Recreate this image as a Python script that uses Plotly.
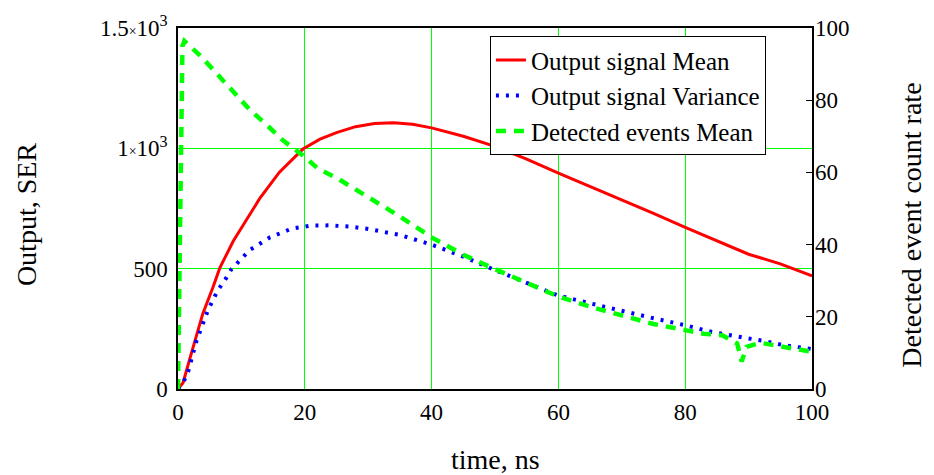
import plotly.graph_objects as go

# ---------------- data ----------------
t_mean = [0, 0.8, 1.8, 3.9, 5.5, 6.6, 8.7, 12.9, 16.0, 19.7, 22.4, 25, 28, 31, 34, 37, 40,
          45, 50, 55, 60, 65, 70, 75, 80, 85, 90, 95, 100]
out_mean = [0, 26, 120, 312, 422, 503, 614, 792, 901, 997, 1038, 1065, 1090, 1103, 1106, 1100, 1085,
            1050, 1008, 955, 897, 842, 788, 730, 672, 615, 560, 520, 470]

t_var = [0, 0.9, 1.6, 2.9, 4.7, 6.3, 7.4, 8.4, 11.3, 14.5, 17.9, 21.0, 24, 27, 30, 35, 40,
         45, 50, 55, 60, 65, 70, 75, 80, 84.2, 89.1, 92.4, 95.5, 98.9, 100]
out_var = [0, 31, 72, 199, 326, 411, 452, 497, 577, 630, 666, 679, 680, 675, 665, 640, 600,
           550, 494, 440, 388, 356, 324, 294, 265, 237, 214, 200, 182, 170, 166]

t_ev = [0, 0.3, 0.7, 1.0, 3.4, 6.05, 8.7, 11.3, 13.9, 16.6, 19.7, 22.1, 25, 30, 35, 40,
        45, 50, 55, 60, 65, 70, 75, 80, 82.9, 85.8, 88.2, 88.9, 89.7, 91.8, 94.7, 97.6, 100]
ev_mean = [0, 45, 95, 96.4, 92.5, 87.5, 82.5, 77.4, 73.3, 68.8, 64.7, 61.0, 58.5, 53.3, 47.8, 42.0,
           37.2, 33.2, 29.4, 25.6, 22.8, 20.3, 18.0, 16.3, 15.3, 14.9, 12.6, 7.6, 11.7, 12.8, 11.9, 10.8, 10.3]

x_ticks = [0, 20, 40, 60, 80, 100]
y_ticks = [0, 500, 1000, 1500]
y_ticktext = ["0", "500",
              "1<span style='font-size:14px'>×</span>10<sup>3</sup>",
              "1.5<span style='font-size:14px'>×</span>10<sup>3</sup>"]
y2_ticks = [0, 20, 40, 60, 80, 100]

FONT = "Liberation Serif, Times New Roman, serif"
GRID = "#00ff00"

fig = go.Figure()
fig.add_trace(go.Scatter(x=t_mean, y=out_mean, mode="lines", name="Output signal Mean",
                         line=dict(color="#ff0000", width=3), yaxis="y"))
fig.add_trace(go.Scatter(x=t_var, y=out_var, mode="lines", name="Output signal Variance",
                         line=dict(color="#0000ff", width=4, dash="3px,7px"), yaxis="y"))
fig.add_trace(go.Scatter(x=t_ev, y=ev_mean, mode="lines", name="Detected events Mean",
                         line=dict(color="#00ff00", width=4.5, dash="10px,8px"), yaxis="y2"))

fig.update_layout(
    width=934, height=475,
    margin=dict(l=178, r=122, t=24, b=86),
    paper_bgcolor="white", plot_bgcolor="white",
    font=dict(family=FONT, size=23, color="black"),
    showlegend=True,
    legend=dict(x=0.492, y=0.977, xanchor="left", yanchor="top",
                bgcolor="white", bordercolor="black", borderwidth=1,
                font=dict(family=FONT, size=25, color="black"),
                itemwidth=30, tracegroupgap=0),
    xaxis=dict(range=[0, 100], tickvals=x_ticks, showgrid=True, gridcolor=GRID, gridwidth=1.2,
               zeroline=False, showline=True, linecolor="black", linewidth=1.5, mirror=True,
               ticks="", ticklabelstandoff=2, tickfont=dict(family=FONT, size=23)),
    yaxis=dict(range=[0, 1500], tickvals=y_ticks, ticktext=y_ticktext, showgrid=True,
               gridcolor=GRID, gridwidth=1.2, zeroline=False, showline=True, linecolor="black",
               linewidth=1.5, mirror=True, ticks="", ticklabelstandoff=4,
               tickfont=dict(family=FONT, size=23)),
    yaxis2=dict(range=[0, 100], tickvals=y2_ticks, overlaying="y", side="right",
                showgrid=False, zeroline=False, showline=False, ticks="inside", ticklen=6,
                tickcolor="black", ticklabelstandoff=2, tickfont=dict(family=FONT, size=23)),
    annotations=[
        dict(text="Output, SER", xref="paper", yref="paper", x=-0.238, y=0.482,
             textangle=-90, showarrow=False, xanchor="center", yanchor="middle",
             font=dict(family=FONT, size=28)),
        dict(text="Detected event count rate", xref="paper", yref="paper", x=1.1577, y=0.455,
             textangle=-90, showarrow=False, xanchor="center", yanchor="middle",
             font=dict(family=FONT, size=28)),
        dict(text="time, ns", xref="paper", yref="paper", x=0.5, y=-0.195,
             showarrow=False, xanchor="center", yanchor="middle",
             font=dict(family=FONT, size=28)),
    ],
)

fig.write_html("out.html")
